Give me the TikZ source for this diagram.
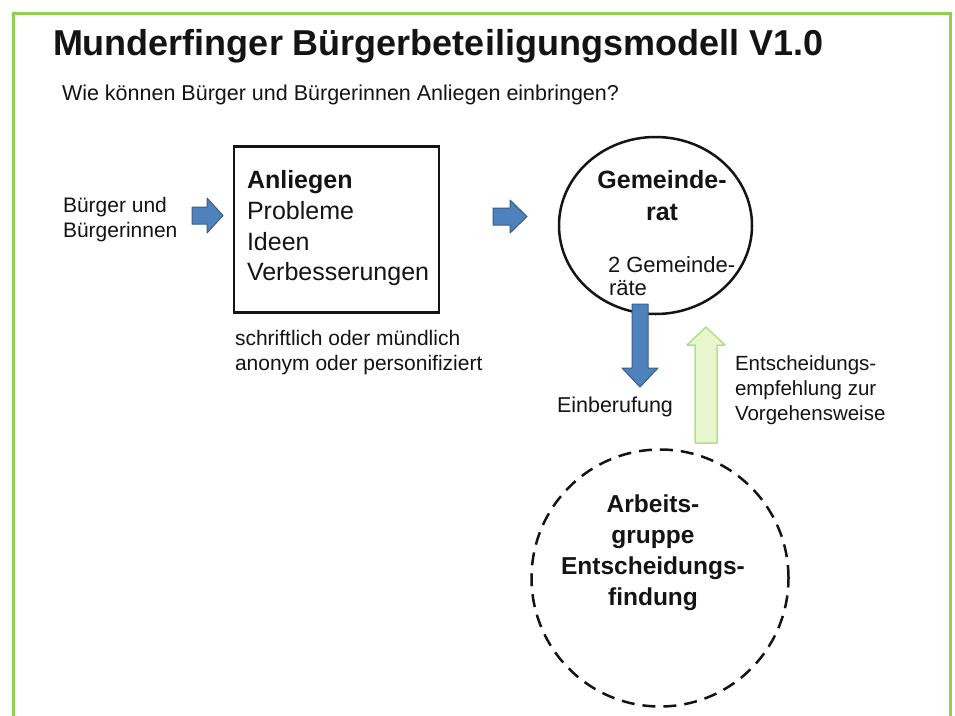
\documentclass[tikz,border=0pt]{standalone}
\usepackage{fontspec}
\setmainfont{Liberation Sans}
\usetikzlibrary{shapes.geometric}
\definecolor{framegreen}{RGB}{146,208,80}
\definecolor{bluefill}{RGB}{79,129,189}
\definecolor{blueline}{RGB}{56,93,138}
\definecolor{greenfill}{RGB}{232,246,206}
\definecolor{greenline}{RGB}{184,220,140}
\definecolor{ink}{RGB}{20,20,20}
\begin{document}
\begin{tikzpicture}[x=1pt,y=-1pt,
  txt/.style={inner sep=0pt, outer sep=0pt, text=ink},
  lt/.style={txt, anchor=base west},
  ct/.style={txt, anchor=base},
  ftitle/.style={font=\fontsize{36}{40}\selectfont\bfseries},
  fsub/.style={font=\fontsize{21.5}{25}\selectfont},
  fsmall/.style={font=\fontsize{21}{25}\selectfont},
  fbox/.style={font=\fontsize{25}{30}\selectfont},
  fboxb/.style={font=\fontsize{25}{30}\selectfont\bfseries},
  bluearrow/.style={fill=bluefill, draw=blueline, line width=1pt, line join=round},
  greenarrow/.style={fill=greenfill, draw=greenline, line width=1.5pt, line join=round},
  shapeline/.style={draw=ink, line width=2.5pt}
]
\useasboundingbox (0,0) rectangle (955,715);
\fill[white] (0,0) rectangle (955,715);
% frame
\draw[framegreen, line width=3pt] (13,720) -- (13,13) -- (950,13) -- (950,720);

% title
\node[lt, ftitle] (title) at (53,55) {Munderfinger Bürgerbeteiligungsmodell V1.0};
\node[lt, fsub] (sub) at (62,100) {Wie können Bürger und Bürgerinnen Anliegen einbringen?};

% citizens
\node[lt, fsmall] (b1) at (63,212) {Bürger und};
\node[lt, fsmall] (b2) at (63,237) {Bürgerinnen};

% arrow 1
\draw[bluearrow] (192,207) -- (207,207) -- (207,198) -- (223,215.5) -- (207,233) -- (207,224) -- (192,224) -- cycle;

% box
\node[shapeline, rectangle, minimum width=205pt, minimum height=166pt, inner sep=0pt] (box) at (336.5,229.5) {};
\node[lt, fboxb] (a1) at (247,188) {Anliegen};
\node[lt, fbox] (a2) at (247,219) {Probleme};
\node[lt, fbox] (a3) at (247,250) {Ideen};
\node[lt, fbox] (a4) at (247,280) {Verbesserungen};
\node[lt, fsmall] (s1) at (235,345) {schriftlich oder mündlich};
\node[lt, fsmall] (s2) at (235,370) {anonym oder personifiziert};

% arrow 2
\draw[bluearrow] (493,208) -- (510,208) -- (510,200) -- (527,216.5) -- (510,233) -- (510,225) -- (493,225) -- cycle;

% Gemeinderat
\node[shapeline, ellipse, minimum width=193pt, minimum height=177pt, inner sep=0pt] (gr) at (655.5,225.5) {};
\node[ct, fboxb] (g1) at (662,188) {Gemeinde-};
\node[ct, fboxb] (g2) at (662,220) {rat};
\node[lt, font=\fontsize{22}{26}\selectfont] (g3) at (608,272) {2 Gemeinde-};
\node[lt, font=\fontsize{22}{26}\selectfont] (g4) at (609,295) {räte};

% down arrow
\draw[bluearrow] (632,304) -- (648,304) -- (648,368) -- (658,368) -- (640,387) -- (622,368) -- (632,368) -- cycle;
\node[lt, fsub] (ein) at (557,412) {Einberufung};

% up arrow
\draw[greenarrow] (706,327) -- (725,345) -- (717,345) -- (717,443) -- (695,443) -- (695,345) -- (687,345) -- cycle;
\node[lt, font=\fontsize{20.5}{25}\selectfont] (e1) at (735,370) {Entscheidungs-};
\node[lt, font=\fontsize{20.5}{25}\selectfont] (e2) at (735,395) {empfehlung zur};
\node[lt, font=\fontsize{20.5}{25}\selectfont] (e3) at (735,420) {Vorgehensweise};

% Arbeitsgruppe
\node[draw=ink, line width=2.5pt, dash pattern=on 13pt off 8pt, circle, minimum size=257pt, inner sep=0pt] (ag) at (660,578) {};
\node[ct, font=\fontsize{24.5}{30}\selectfont\bfseries] (w1) at (653,512) {Arbeits-};
\node[ct, font=\fontsize{24.5}{30}\selectfont\bfseries] (w2) at (653,543) {gruppe};
\node[ct, font=\fontsize{24.5}{30}\selectfont\bfseries] (w3) at (653,574) {Entscheidungs-};
\node[ct, font=\fontsize{24.5}{30}\selectfont\bfseries] (w4) at (653,605) {findung};
\end{tikzpicture}
\end{document}
